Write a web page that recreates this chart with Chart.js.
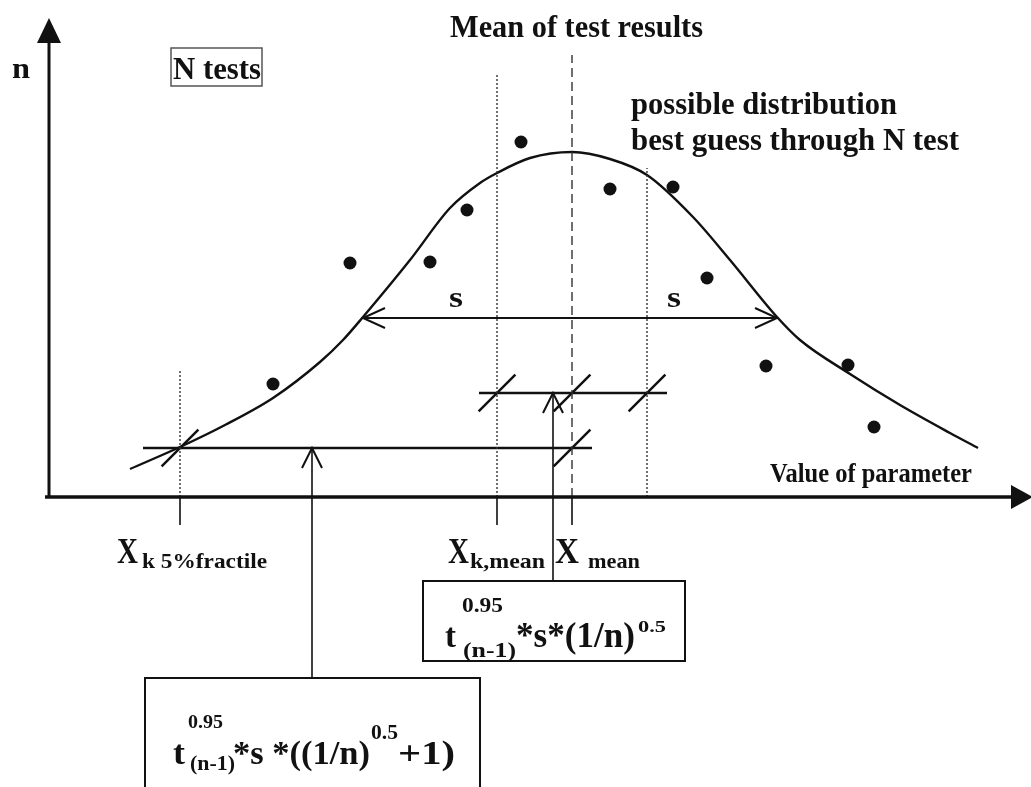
<!DOCTYPE html>
<html><head><meta charset="utf-8">
<script src="https://cdn.jsdelivr.net/npm/chart.js@4.4.1/dist/chart.umd.min.js"></script>
<style>html,body{margin:0;padding:0;background:#fff;overflow:hidden}#wrap{width:1031px;height:787px}</style>
</head><body><div id="wrap"><canvas id="c" width="1031" height="787"></canvas></div>
<script>
// ---- data (diagram units: x = value of parameter, y = n) ----
const curveX = [8.2,13.2,17.7,22.5,27.2,29.5,31.5,36.2,40.2,43.2,44.9,48.2,52.4,56.2,59.9,64.5,68.2,72.9,75.2,80.2,85.2,90.2,93.0];
const curveY = [5.6,10.0,14.4,19.8,27.0,31.4,36.0,47.4,57.8,62.8,64.8,67.8,69.0,67.6,64.4,56.0,47.4,36.0,31.4,24.6,18.4,12.8,9.8];
const dotX = [22.5,30.2,38.2,41.9,47.3,56.2,62.5,65.9,71.8,80.0,82.6];
const dotY = [22.6,46.8,47.0,57.4,71.0,61.6,62.0,43.8,26.2,26.4,14.0];
// vertical reference lines
const refX = [13.2,44.9,52.4,59.9];
const refTop = [25.4,84.4,88.4,65.8];
const refDash = ['dot','dot','dash','dot'];
const tickX = [13.2,44.9,52.4];
const tickBottom = -5.6;
// horizontal levels
const levelY = [9.8,20.8];
const levelFrom = [9.5,43.1];
const levelTo = [54.4,61.9];
// slash marks at intersections
const slashX = [13.2,52.4,44.9,52.4,59.9];
const slashY = [9.8,9.8,20.8,20.8,20.8];
// s range (double arrow)
const sRangeY = 35.8, sRangeFrom = 31.5, sRangeTo = 72.9;
// connectors from boxes up to levels
const connX = [26.4,50.5];
const connTop = [9.8,20.8];
const connBottom = [-36.2,-16.8];
// axes
const axisXFrom = -0.3, axisXTo = 98.5, axisYX = 0.1, axisYTo = 95.8;

const SERIF = '"Liberation Serif","DejaVu Serif",serif';
const INK = '#111';

const texts = [
 {t:'n', x:-3.6, y:83.8, size:30, w:18},
 {t:'N tests', x:12.5, y:83.6, size:31, w:88},
 {t:'Mean of test results', x:40.2, y:92.0, size:31, w:253},
 {t:'possible distribution', x:58.3, y:76.6, size:31, w:266},
 {t:'best guess through N test', x:58.3, y:69.4, size:31, w:328},
 {t:'s', x:40.1, y:38.0, size:30, w:14},
 {t:'s', x:61.9, y:38.0, size:30, w:14},
 {t:'Value of parameter', x:72.2, y:3.0, size:28, w:202},
 {t:'X', x:6.9, y:-13.2, size:36, w:21},
 {t:'k 5%fractile', x:9.4, y:-14.2, size:21, w:125},
 {t:'X', x:40.0, y:-13.2, size:36, w:21},
 {t:'k,mean', x:42.2, y:-14.2, size:22, w:75},
 {t:'X', x:50.7, y:-13.2, size:36, w:24},
 {t:'mean', x:54.0, y:-14.2, size:22, w:52},
 {t:'0.95', x:41.4, y:-23.0, size:20, w:41},
 {t:'t', x:39.7, y:-30.0, size:34, w:11},
 {t:'(n-1)', x:41.5, y:-32.0, size:22, w:53},
 {t:'*s*(1/n)', x:46.8, y:-30.0, size:35, w:119},
 {t:'0.5', x:59.0, y:-27.0, size:17, w:28},
 {t:'0.95', x:14.0, y:-46.2, size:19, w:35},
 {t:'t', x:12.5, y:-53.4, size:34, w:12},
 {t:'(n-1)', x:14.2, y:-54.6, size:21, w:45},
 {t:'*s *((1/n)', x:18.5, y:-53.4, size:34, w:137},
 {t:'0.5', x:32.3, y:-48.4, size:20, w:27},
 {t:'+1)', x:35.0, y:-53.4, size:34, w:57}
];
const boxes = [
 {x1:12.3, y1:89.8, x2:21.4, y2:82.2, lw:1.5, c:'#555'},
 {x1:37.5, y1:-16.8, x2:63.7, y2:-32.8, lw:2, c:INK},
 {x1:9.7, y1:-36.2, x2:43.2, y2:-60.6, lw:2, c:INK}
];
const arrows = [
 {fx:axisYX, fy:0, tx:axisYX, ty:axisYTo, kind:'fill', len:25, half:12},
 {fx:axisXFrom, fy:0, tx:axisXTo, ty:0, kind:'fill', len:22, half:12},
 {fx:sRangeTo, fy:sRangeY, tx:sRangeFrom, ty:sRangeY, kind:'open', len:22, half:10},
 {fx:sRangeFrom, fy:sRangeY, tx:sRangeTo, ty:sRangeY, kind:'open', len:22, half:10},
 {fx:connX[0], fy:connBottom[0], tx:connX[0], ty:connTop[0], kind:'open', len:20, half:10},
 {fx:connX[1], fy:connBottom[1], tx:connX[1], ty:connTop[1], kind:'open', len:20, half:10}
];

function seg(x1,y1,x2,y2,opt){
  return Object.assign({data:[{x:x1,y:y1},{x:x2,y:y2}], showLine:true, pointRadius:0, borderColor:INK, borderWidth:2.5, fill:false}, opt||{});
}
const datasets = [];
datasets.push(seg(axisXFrom,0,axisXTo-1,0,{borderWidth:3.5}));
datasets.push(seg(axisYX,0,axisYX,axisYTo-1,{borderWidth:3}));
refX.forEach((x,i)=>{
  datasets.push(seg(x,0,x,refTop[i],{borderWidth:1.4, borderColor:'#333', borderDash: refDash[i]==='dash'?[9,5]:[2,2]}));
});
tickX.forEach(x=>datasets.push(seg(x,0,x,tickBottom,{borderWidth:1.6})));
levelY.forEach((y,i)=>datasets.push(seg(levelFrom[i],y,levelTo[i],y,{borderWidth:2.5})));
datasets.push(seg(sRangeFrom,sRangeY,sRangeTo,sRangeY,{borderWidth:2}));
connX.forEach((x,i)=>datasets.push(seg(x,connBottom[i],x,connTop[i],{borderWidth:1.6})));
datasets.push({data:curveX.map((x,i)=>({x,y:curveY[i]})), showLine:true, pointRadius:0, borderColor:INK, borderWidth:2.4, cubicInterpolationMode:'monotone', fill:false});
datasets.push({data:dotX.map((x,i)=>({x,y:dotY[i]})), showLine:false, pointRadius:6.5, pointBackgroundColor:INK, pointBorderWidth:0});
datasets.push({data:slashX.map((x,i)=>({x,y:slashY[i]})), showLine:false, pointStyle:'line', pointRadius:26, pointRotation:-45, pointBorderColor:INK, pointBorderWidth:2.5});

const drawPlugin = {
  id:'diagram',
  afterDatasetsDraw(chart){
    const ctx = chart.ctx, sx = chart.scales.x, sy = chart.scales.y;
    const X = v=>sx.getPixelForValue(v), Y = v=>sy.getPixelForValue(v);
    ctx.save();
    arrows.forEach(a=>{
      const x1=X(a.fx), y1=Y(a.fy), x2=X(a.tx), y2=Y(a.ty);
      const ang = Math.atan2(y2-y1, x2-x1);
      const bx = x2 - Math.cos(ang)*a.len, by = y2 - Math.sin(ang)*a.len;
      const nx = -Math.sin(ang)*a.half, ny = Math.cos(ang)*a.half;
      ctx.beginPath();
      ctx.moveTo(bx+nx, by+ny); ctx.lineTo(x2,y2); ctx.lineTo(bx-nx, by-ny);
      if(a.kind==='fill'){ ctx.closePath(); ctx.fillStyle=INK; ctx.fill(); }
      else { ctx.strokeStyle=INK; ctx.lineWidth=2; ctx.lineJoin='miter'; ctx.stroke(); }
    });
    boxes.forEach(b=>{
      ctx.strokeStyle=b.c; ctx.lineWidth=b.lw;
      ctx.strokeRect(X(b.x1), Y(b.y1), X(b.x2)-X(b.x1), Y(b.y2)-Y(b.y1));
    });
    ctx.fillStyle=INK; ctx.textBaseline='alphabetic'; ctx.textAlign='left';
    texts.forEach(t=>{
      ctx.font = 'bold '+t.size+'px '+SERIF;
      const m = ctx.measureText(t.t).width;
      const k = t.w ? t.w/m : 1;
      ctx.save();
      ctx.translate(X(t.x), Y(t.y));
      ctx.scale(k,1);
      ctx.fillText(t.t,0,0);
      ctx.restore();
    });
    ctx.restore();
  }
};

new Chart(document.getElementById('c'), {
  type:'scatter',
  data:{datasets},
  options:{
    responsive:false, animation:false, events:[], devicePixelRatio:1,
    layout:{padding:0, autoPadding:false},
    plugins:{legend:{display:false}, tooltip:{enabled:false}, title:{display:false}},
    scales:{
      x:{type:'linear', min:-4.8, max:98.3, display:false},
      y:{type:'linear', min:-58.0, max:99.4, display:false}
    }
  },
  plugins:[drawPlugin]
});
</script></body></html>
